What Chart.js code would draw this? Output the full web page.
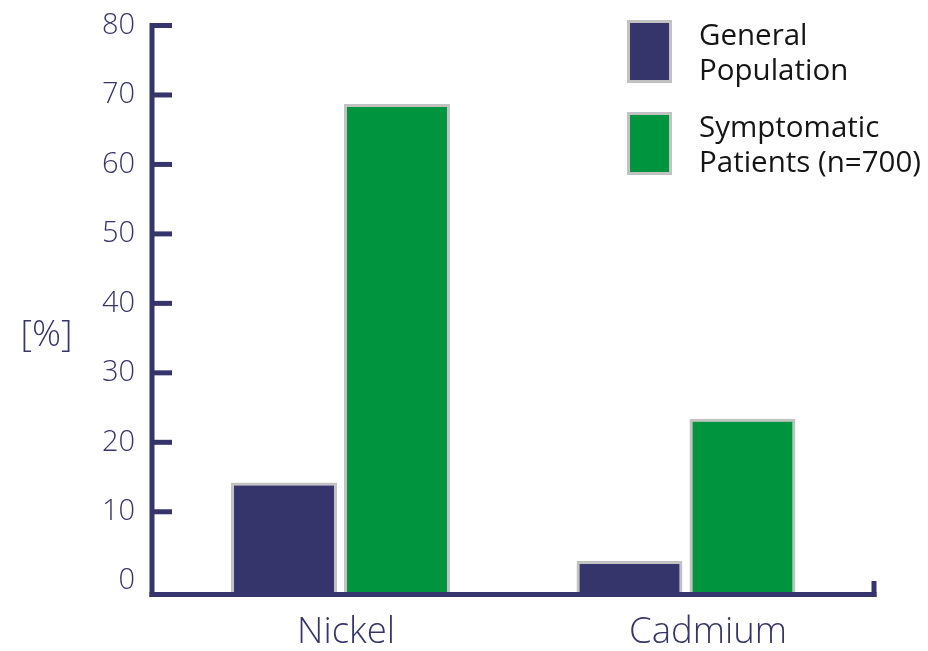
<!DOCTYPE html>
<html>
<head>
<meta charset="utf-8">
<script src="https://cdn.jsdelivr.net/npm/chart.js@4.4.1/dist/chart.umd.min.js"></script>
<style>
  html, body { margin: 0; padding: 0; background: #ffffff; }
  #wrap { width: 928px; height: 651px; }
</style>
</head>
<body>
<div id="wrap"><canvas id="chart" width="928" height="651"></canvas></div>
<script>
// Categories and series values (%)
const categories = ['Nickel', 'Cadmium'];
const generalPopulation = [14.2, 2.9];
const symptomaticPatients = [68.7, 23.4];
const seriesNames = [['General', 'Population'], ['Symptomatic', 'Patients (n=700)']];
const yTicks = [0, 10, 20, 30, 40, 50, 60, 70, 80];
const yTitle = '[%]';
const yMin = -1.55;
const yMax = 80;

const NAVY = '#35356b';
const GREEN = '#00943f';
const EDGE = '#c2c2c2';
const FONT = "'Open Sans', 'DejaVu Sans', sans-serif";

// bars sit on a numeric index axis: category i is drawn at x = i
const toPoints = values => values.map((v, i) => ({ x: i, y: v }));

// Axis lines with inward tick marks, drawn from the y scale
const axesPlugin = {
  id: 'axesLines',
  afterDatasetsDraw(chart) {
    const { ctx, chartArea: a, scales: { y } } = chart;
    const axisX = a.left;
    const baseY = a.bottom + 2.5;
    const endX = a.right - 2;
    const top = y.getPixelForValue(yMax);
    ctx.save();
    ctx.fillStyle = NAVY;
    ctx.fillRect(axisX - 2.5, top - 2.5, 5, baseY + 2.5 - (top - 2.5));
    ctx.fillRect(axisX - 2.5, baseY - 2.5, endX + 2.5 - (axisX - 2.5), 5);
    ctx.fillRect(endX - 2.5, baseY - 13.5, 5, 16);
    yTicks.filter(v => v > 0).forEach(v => {
      const p = y.getPixelForValue(v);
      ctx.fillRect(axisX, p - 2.5, 20, 5);
    });
    ctx.restore();
  }
};

// Legend with two-line labels and the horizontal unit title
const legendPlugin = {
  id: 'sideLegend',
  afterDraw(chart) {
    const { ctx } = chart;
    ctx.save();
    chart.data.datasets.forEach((ds, i) => {
      const bx = 627, by = 20 + i * 92, bw = 45, bh = 63;
      ctx.fillStyle = EDGE;
      ctx.fillRect(bx, by, bw, bh);
      ctx.fillStyle = ds.backgroundColor;
      ctx.fillRect(bx + 3, by + 3, bw - 6, bh - 6);
      ctx.fillStyle = '#151515';
      ctx.font = '29.5px ' + FONT;
      ctx.textAlign = 'left';
      ctx.textBaseline = 'alphabetic';
      seriesNames[i].forEach((line, j) => {
        ctx.fillText(line, 699, 45 + i * 92 + j * 35);
      });
    });
    ctx.fillStyle = NAVY;
    ctx.font = '300 36px ' + FONT;
    ctx.textAlign = 'center';
    ctx.textBaseline = 'middle';
    ctx.fillText(yTitle, 46.5, 336);
    ctx.restore();
  }
};

const barStyle = {
  xAxisID: 'xb',
  borderColor: EDGE,
  borderWidth: 3,
  base: yMin,
  categoryPercentage: 0.654,
  barPercentage: 0.938
};

new Chart(document.getElementById('chart'), {
  type: 'bar',
  data: {
    labels: categories,
    datasets: [
      Object.assign({
        label: seriesNames[0].join(' '),
        data: toPoints(generalPopulation),
        backgroundColor: NAVY
      }, barStyle),
      Object.assign({
        label: seriesNames[1].join(' '),
        data: toPoints(symptomaticPatients),
        backgroundColor: GREEN
      }, barStyle)
    ]
  },
  options: {
    responsive: false,
    devicePixelRatio: 1,
    animation: false,
    layout: { padding: { top: 25.5, right: 52, bottom: 0, left: 0 } },
    plugins: { legend: { display: false }, tooltip: { enabled: false } },
    scales: {
      // category axis carrying the labels under the bars
      x: {
        type: 'category',
        offset: true,
        grid: { display: false, drawTicks: false },
        border: { display: false },
        ticks: {
          color: NAVY,
          font: { family: FONT, size: 36.5, weight: '300' },
          padding: 19,
          labelOffset: 13
        },
        afterFit(s) { s.height = 59; s.paddingLeft = 0; s.paddingRight = 0; }
      },
      // numeric index axis the bars are placed on, one tick per category
      xb: {
        type: 'linear',
        display: false,
        offset: false,
        min: -0.5456,
        max: 1.55,
        afterBuildTicks(s) { s.ticks = categories.map((c, i) => ({ value: i })); }
      },
      y: {
        min: yMin,
        max: yMax,
        grid: { display: false, drawTicks: false },
        border: { display: false },
        ticks: {
          color: NAVY,
          font: { family: FONT, size: 29, weight: '300' },
          padding: 17
        },
        afterBuildTicks(s) { s.ticks = yTicks.map(v => ({ value: v })); },
        afterFit(s) { s.width = 152; s.paddingTop = 0; s.paddingBottom = 0; }
      }
    }
  },
  plugins: [axesPlugin, legendPlugin]
});
</script>
</body>
</html>
